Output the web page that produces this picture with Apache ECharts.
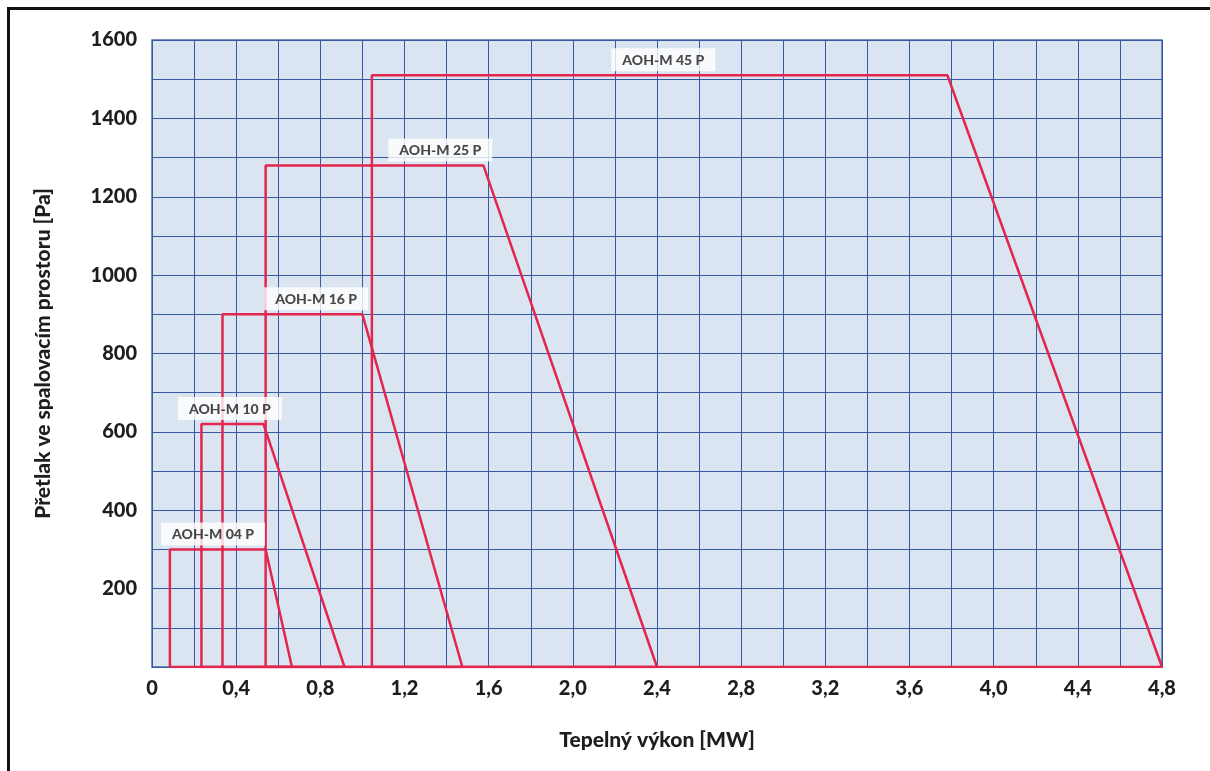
<html lang="cs">
<head>
	<meta charset="UTF-8">
	<script src="https://cdn.jsdelivr.net/npm/echarts@6/dist/echarts.min.js"></script>
	<title>Přetlak ve spalovacím prostoru</title>
</head>
<body style="margin:0;background:#fff">
<div id="frame" style="position:absolute;left:7px;top:7px;width:1203px;height:764px;border-left:3px solid #111;border-top:3px solid #111;box-sizing:border-box"></div>
<div id="pic" style="position:absolute;left:0;top:0;width:1210px;height:771px"></div>
<script>
	"use strict";

	// typy hořáků a jejich pracovní pole (MW / Pa)
	const models=["AOH-M 04 P","AOH-M 10 P","AOH-M 16 P","AOH-M 25 P","AOH-M 45 P"];
	const minPower=[0.085,0.235,0.335,0.54,1.045];
	const maxPressure=[300,620,900,1280,1510];
	const kneePower=[0.54,0.53,1.0,1.575,3.78];
	const maxPower=[0.665,0.915,1.475,2.4,4.8];
	const labelPower=[0.29,0.37,0.78,1.37,2.43];

	const xTicks=[0,0.4,0.8,1.2,1.6,2.0,2.4,2.8,3.2,3.6,4.0,4.4,4.8];
	const yTicks=[200,400,600,800,1000,1200,1400,1600];

	function fmt(v)
	{
		if(v===0)
		{return "0";}
		return v.toFixed(1).replace(".",",");
	}

	function near(list,v)
	{return list.some(t=>Math.abs(t-v)<1e-6);}

	let series=[];
	for(let i=0; i<models.length; i++)
	{
		series.push({
			name:models[i],
			type:"line",
			data:[[minPower[i],0],[minPower[i],maxPressure[i]],[kneePower[i],maxPressure[i]],[maxPower[i],0],[minPower[i],0]],
			symbol:"none",
			lineStyle:{color:"#e2264d",width:2.5},
			z:3
		});
	}
	series.push({
		name:"popisky",
		type:"scatter",
		data:models.map((m,i)=>({value:[labelPower[i],maxPressure[i]],name:m})),
		symbolSize:0,
		z:5,
		label:{
			show:true,
			position:"top",
			distance:4,
			formatter:p=>p.name,
			backgroundColor:"#fff",
			padding:[5,11,4,11],
			fontFamily:"Lato",
			fontWeight:900,
			fontSize:14,
			color:"#1a1a1a"
		}
	});

	const axisFont={fontFamily:"Lato",fontWeight:900,color:"#1e1e1e"};

	let pic=echarts.init(document.getElementById("pic"));
	let option=
		{
			animation:false,
			grid:{left:152,right:48,top:40,bottom:104,show:true,backgroundColor:"#dbe5f1",borderColor:"#4f6fa8",borderWidth:1.5},
			xAxis:{
				type:"value",
				min:0,max:4.8,interval:0.2,
				name:"Tepelný výkon [MW]",
				nameLocation:"middle",
				nameGap:63,
				nameTextStyle:Object.assign({fontSize:21},axisFont),
				axisLine:{show:false},
				axisTick:{show:false},
				splitLine:{show:true,lineStyle:{color:"#355aa3",width:1}},
				axisLabel:Object.assign({
					margin:12,
					fontSize:20,
					formatter:v=>near(xTicks,v)?fmt(v):""
				},axisFont)
			},
			yAxis:{
				type:"value",
				min:0,max:1600,interval:100,
				name:"Přetlak ve spalovacím prostoru [Pa]",
				nameLocation:"middle",
				nameGap:98,
				nameTextStyle:Object.assign({fontSize:21},axisFont),
				axisLine:{show:false},
				axisTick:{show:false},
				splitLine:{show:true,lineStyle:{color:"#355aa3",width:1}},
				axisLabel:Object.assign({
					margin:15,
					fontSize:20,
					formatter:v=>near(yTicks,v)?String(v):""
				},axisFont)
			},
			series:series
		};
	pic.setOption(option);
</script>
</body>
</html>
